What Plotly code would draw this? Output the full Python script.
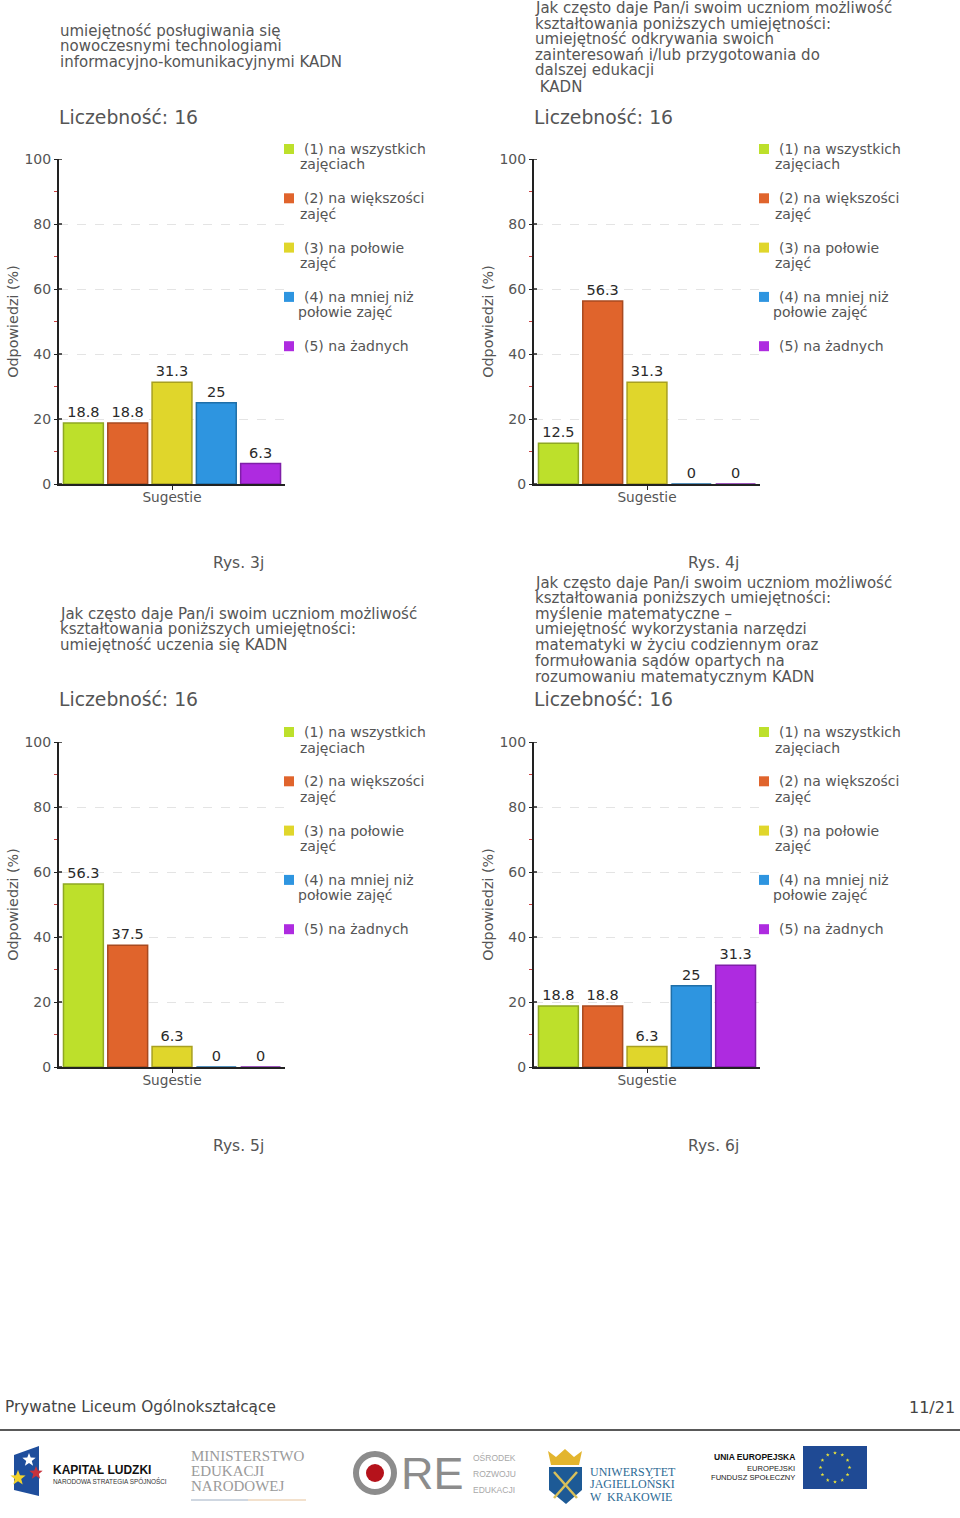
import math
import plotly.graph_objects as go

W, H = 960, 1518
FONT = "DejaVu Sans"
SERIES = ["(1) na wszystkich zajęciach", "(2) na większości zajęć", "(3) na połowie zajęć",
          "(4) na mniej niż połowie zajęć", "(5) na żadnych"]
LEGEND_LINES = [["(1) na wszystkich", "zajęciach"], ["(2) na większości", "zajęć"],
                ["(3) na połowie", "zajęć"], ["(4) na mniej niż", "połowie zajęć"], ["(5) na żadnych", None]]
FILL = ["#bde02b", "#e0642c", "#e0d62b", "#2e95e0", "#ae2be0"]
EDGE = ["#8fa823", "#a84a20", "#a8a020", "#1f6fa8", "#7f1fa8"]

values_3j = [18.8, 18.8, 31.3, 25, 6.3]
values_4j = [12.5, 56.3, 31.3, 0, 0]
values_5j = [56.3, 37.5, 6.3, 0, 0]
values_6j = [18.8, 18.8, 6.3, 25, 31.3]
titles_3j = ["umiejętność posługiwania się", "nowoczesnymi technologiami", "informacyjno-komunikacyjnymi KADN"]
titles_4j = ["Jak często daje Pan/i swoim uczniom możliwość", "kształtowania poniższych umiejętności:",
             "umiejętność odkrywania swoich", "zainteresowań i/lub przygotowania do", "dalszej edukacji", " KADN"]
titles_5j = ["Jak często daje Pan/i swoim uczniom możliwość", "kształtowania poniższych umiejętności:",
             "umiejętność uczenia się KADN"]
titles_6j = ["Jak często daje Pan/i swoim uczniom możliwość", "kształtowania poniższych umiejętności:",
             "myślenie matematyczne –", "umiejętność wykorzystania narzędzi",
             "matematyki w życiu codziennym oraz", "formułowania sądów opartych na",
             "rozumowaniu matematycznym KADN"]
title_rows_3j = [31, 46, 62]
title_rows_4j = [8, 24, 39, 55, 70, 87]
title_rows_5j = [614, 629, 645]
title_rows_6j = [583, 598, 614, 629, 645, 661, 677]
captions = ["Rys. 3j", "Rys. 4j", "Rys. 5j", "Rys. 6j"]
count_label = "Liczebność: 16"
y_ticks = [0, 20, 40, 60, 80, 100]
minor_ticks = [10, 30, 50, 70, 90]
footer_left = "Prywatne Liceum Ogólnokształcące"
footer_right = "11/21"

panels = [
    (values_3j, titles_3j, title_rows_3j, 0, 0),
    (values_4j, titles_4j, title_rows_4j, 475, 0),
    (values_5j, titles_5j, title_rows_5j, 0, 583),
    (values_6j, titles_6j, title_rows_6j, 475, 583),
]

fig = go.Figure()
shapes, notes = [], []

def px(x): return x / W
def py(y): return 1 - y / H

def text(x, y, s, size=14, color="#555555", anchor="left", family=FONT, angle=0, bold=False):
    nudge = {"left": -2, "right": 2, "center": 0}[anchor]
    notes.append(dict(x=px(x + nudge), y=py(y), xref="paper", yref="paper", text=f"<b>{s}</b>" if bold else s,
                      showarrow=False, xanchor=anchor, yanchor="middle", textangle=angle,
                      font=dict(family=family, size=size, color=color)))

def rect(x0, y0, x1, y1, fill, line=None, width=0):
    shapes.append(dict(type="rect", xref="paper", yref="paper", x0=px(x0), x1=px(x1), y0=py(y0), y1=py(y1),
                       fillcolor=fill, line=dict(color=line or fill, width=width)))

def poly(points, fill, line=None, width=0):
    path = "M " + " L ".join(f"{px(a):.5f},{py(b):.5f}" for a, b in points) + " Z"
    shapes.append(dict(type="path", xref="paper", yref="paper", path=path, fillcolor=fill,
                       line=dict(color=line or fill, width=width)))

def circle(cx, cy, r, fill, line=None, width=0):
    shapes.append(dict(type="circle", xref="paper", yref="paper", x0=px(cx - r), x1=px(cx + r),
                       y0=py(cy - r), y1=py(cy + r), fillcolor=fill, line=dict(color=line or fill, width=width)))

def star(cx, cy, r, fill):
    pts = []
    for i in range(10):
        a = -math.pi / 2 + i * math.pi / 5
        q = r if i % 2 == 0 else r * 0.42
        pts.append((cx + q * math.cos(a), cy + q * math.sin(a)))
    poly(pts, fill)

for idx, (vals, title_lines, rows, dx, dy) in enumerate(panels):
    n = idx + 1
    suffix = "" if n == 1 else str(n)
    xa, ya = f"x{suffix}", f"y{suffix}"
    for name, v, f, e in zip(SERIES, vals, FILL, EDGE):
        fig.add_trace(go.Bar(x=["Sugestie"], y=[v], name=name, xaxis=xa, yaxis=ya, showlegend=False,
                             marker=dict(color=f, line=dict(color=e, width=1.5)),
                             text=[str(v)], textposition="outside", cliponaxis=False,
                             textangle=0, textfont=dict(family=FONT, size=14.5, color="#2a2a2a")))
    fig.layout[f"xaxis{suffix}"] = dict(domain=[px(59 + dx), px(285 + dx)], anchor=ya, range=[-0.5, 0.5],
                                   showticklabels=False, ticks="outside", ticklen=4, tickcolor="#222222",
                                   showline=True, linecolor="#222222", linewidth=2, showgrid=False,
                                   layer="below traces",
                                   title=dict(text="Sugestie", standoff=3,
                                              font=dict(family=FONT, size=13.7, color="#555555")))
    fig.layout[f"yaxis{suffix}"] = dict(domain=[py(484 + dy), py(159 + dy)], anchor=xa, range=[0, 100],
                                   tickmode="array", tickvals=y_ticks, ticks="outside", ticklen=3,
                                   tickcolor="#222222", showline=True, linecolor="#222222", linewidth=2,
                                   showgrid=True, gridcolor="#e4e4e4", griddash="dash", gridwidth=1,
                                   zeroline=False, tickfont=dict(family=FONT, size=14, color="#555555"),
                                   minor=dict(tickmode="array", tickvals=minor_ticks, ticks="outside",
                                              ticklen=3, tickcolor="#c94040", showgrid=False),
                                   title=dict(text="Odpowiedzi (%)", standoff=2,
                                              font=dict(family=FONT, size=14.3, color="#555555")))
    for t in y_ticks:
        shapes.append(dict(type="line", xref=f"{xa} domain", yref=ya, x0=0, x1=3 / 226, y0=t, y1=t,
                           line=dict(color="#222222", width=1.5)))
    for line_text, row in zip(title_lines, rows):
        text(60 + dx, row, line_text, size=15)
    text(59 + dx, 117 + dy, count_label, size=18.8)
    text(238 + dx, 563 + dy, captions[idx], size=15.5, anchor="center")
    for i, lines in enumerate(LEGEND_LINES):
        cy = 149 + dy + i * 49.3
        rect(284 + dx, cy - 5, 294 + dx, cy + 5, FILL[i])
        text(304 + dx, cy, lines[0], size=14)
        if lines[1]:
            text(300 + dx if i != 3 else 298 + dx, cy + 15.5, lines[1], size=14)

# Footer
text(5, 1407, footer_left, size=15.3, color="#444444")
text(955, 1407, footer_right, size=16, color="#444444", anchor="right")
shapes.append(dict(type="line", xref="paper", yref="paper", x0=0, x1=1, y0=py(1430), y1=py(1430),
                   line=dict(color="#222222", width=1.5)))

# Logo: Kapitał Ludzki
poly([(14, 1455), (39, 1446), (39, 1496), (14, 1490)], "#1f4e9c")
star(29, 1460, 7, "#ffffff")
star(36, 1473, 7, "#c8323c")
star(18, 1478, 8, "#f2d32b")
text(53, 1470, "KAPITAŁ LUDZKI", size=12, color="#111111", bold=True, family="Liberation Sans")
text(53, 1481, "NARODOWA STRATEGIA SPÓJNOŚCI", size=6.4, color="#333333", family="Liberation Sans")

# Logo: Ministerstwo
for label, row in zip(["MINISTERSTWO", "EDUKACJI", "NARODOWEJ"], [1456, 1471, 1486]):
    text(191, row, label, size=15, color="#9a9a9a", family="Liberation Serif")
shapes.append(dict(type="line", xref="paper", yref="paper", x0=px(191), x1=px(248), y0=py(1500), y1=py(1500),
                   line=dict(color="#9fb0c4", width=1.2)))
shapes.append(dict(type="line", xref="paper", yref="paper", x0=px(248), x1=px(306), y0=py(1500), y1=py(1500),
                   line=dict(color="#e8c49c", width=1.2)))

# Logo: ORE
circle(375, 1473, 19, "rgba(0,0,0,0)", "#8c8c8c", 6)
circle(375, 1473, 9, "#b5121b")
text(401, 1473, "RE", size=45, color="#8c8c8c", family="Liberation Sans")
for label, row in zip(["OŚRODEK", "ROZWOJU", "EDUKACJI"], [1457, 1474, 1490]):
    text(473, row, label, size=8.5, color="#a8a8a8", family="Liberation Sans")

# Logo: UJ
poly([(549, 1467), (582, 1467), (582, 1490), (566, 1504), (549, 1490)], "#1d5a96")
poly([(551, 1465), (548, 1451), (556, 1457), (565, 1449), (574, 1457), (582, 1451), (579, 1465)], "#e3b52e")
for a, b in [((554, 1472), (577, 1498)), ((577, 1472), (554, 1498))]:
    shapes.append(dict(type="line", xref="paper", yref="paper", x0=px(a[0]), x1=px(b[0]), y0=py(a[1]), y1=py(b[1]),
                       line=dict(color="#d9c05a", width=2.5)))
for label, row in zip(["UNIWERSYTET", "JAGIELLOŃSKI", "W  KRAKOWIE"], [1472, 1484, 1497]):
    text(590, row, label, size=12, color="#2c6a94", family="Liberation Serif")

# Logo: EU
text(795, 1457, "UNIA EUROPEJSKA", size=8.5, color="#111111", anchor="right", family="Liberation Sans", bold=True)
text(795, 1468, "EUROPEJSKI", size=7.6, color="#222222", anchor="right", family="Liberation Sans")
text(795, 1477, "FUNDUSZ SPOŁECZNY", size=7.6, color="#222222", anchor="right", family="Liberation Sans")
rect(803, 1446, 867, 1489, "#1f4a94")
for i in range(12):
    a = i * math.pi / 6
    star(835 + 14.5 * math.cos(a), 1467.5 + 14.5 * math.sin(a), 2, "#e8e23a")

fig.update_layout(width=W, height=H, margin=dict(l=0, r=0, t=0, b=0, autoexpand=False), autosize=False,
                  paper_bgcolor="white", plot_bgcolor="white", barmode="group",
                  bargap=0.02, bargroupgap=0.1, shapes=shapes, annotations=notes,
                  font=dict(family=FONT))
fig.write_html("out.html", post_script="document.body.style.margin='0';document.body.style.overflow='hidden';",
               config={"displayModeBar": False})
